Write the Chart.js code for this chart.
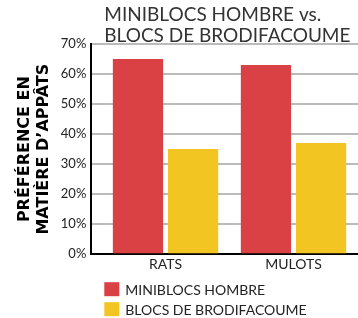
<!DOCTYPE html>
<html>
<head>
<meta charset="utf-8">
<script src="https://cdn.jsdelivr.net/npm/chart.js@4"></script>
<style>
  body { margin: 0; background: #fff; }
  #wrap { width: 358px; height: 318px; }
</style>
</head>
<body>
<div id="wrap"><canvas id="chart" width="358" height="318"></canvas></div>
<script>
const categories = ["RATS", "MULOTS"]
const miniblocs = [65, 63]
const brodifacoume = [35, 37]
const seriesNames = ["MINIBLOCS HOMBRE", "BLOCS DE BRODIFACOUME"]
const titleLines = ["MINIBLOCS HOMBRE vs.", "BLOCS DE BRODIFACOUME"]
const yTitle = ["PRÉFÉRENCE EN", "MATIÈRE D’APPÂTS"]

const FONT = "Lato, 'DejaVu Sans', sans-serif"

// title drawn left-aligned over the plot
const titlePlugin = {
  id: "leftTitle",
  afterDraw(chart) {
    const ctx = chart.ctx
    ctx.save()
    ctx.fillStyle = "#333"
    ctx.font = "19px " + FONT
    ctx.textBaseline = "middle"
    ctx.textAlign = "left"
    titleLines.forEach((line, i) => {
      ctx.fillText(line, chart.chartArea.left + 13, 15 + i * 21)
    })
    ctx.restore()
  }
}

// legend stacked under the axis, one series per row
const legendPlugin = {
  id: "stackedLegend",
  afterDraw(chart) {
    const ctx = chart.ctx
    const left = chart.chartArea.left + 13
    ctx.save()
    ctx.font = "14px " + FONT
    ctx.textBaseline = "middle"
    ctx.textAlign = "left"
    chart.data.datasets.forEach((ds, i) => {
      const top = chart.chartArea.bottom + 28 + i * 20
      ctx.fillStyle = ds.backgroundColor
      ctx.fillRect(left, top, 15, 14)
      ctx.fillStyle = "#222"
      ctx.fillText(ds.label, left + 21, top + 8)
    })
    ctx.restore()
  }
}

// categories sit on a linear index axis so the groups can be placed off-centre
const toPoints = (arr) => arr.map((v, i) => ({ x: i, y: v }))

new Chart(document.getElementById("chart"), {
  type: "bar",
  data: {
    datasets: [
      { label: seriesNames[0], data: toPoints(miniblocs), backgroundColor: "#d94145" },
      { label: seriesNames[1], data: toPoints(brodifacoume), backgroundColor: "#f2c523" }
    ]
  },
  options: {
    responsive: false,
    animation: false,
    categoryPercentage: 0.8615,
    barPercentage: 0.911,
    layout: { padding: { top: 44, right: 0, bottom: 43, left: 16 } },
    plugins: {
      title: { display: false },
      tooltip: { enabled: false },
      legend: { display: false }
    },
    scales: {
      x: {
        type: "linear",
        offset: false,
        bounds: "data",
        min: -0.58,
        max: 1.504,
        afterBuildTicks: (axis) => {
          axis.ticks = categories.map((c, i) => ({ value: i }))
        },
        grid: { display: false, drawTicks: false, offset: false },
        border: { color: "#000", width: 2 },
        ticks: {
          color: "#222",
          font: { family: FONT, size: 14 },
          padding: 2,
          callback: (v) => categories[v]
        }
      },
      y: {
        min: 0,
        max: 70,
        grid: { color: "#bbb", lineWidth: 2, drawTicks: false },
        border: { color: "#000", width: 2 },
        ticks: {
          stepSize: 10,
          color: "#222",
          padding: 5,
          font: { family: FONT, size: 13 },
          callback: (v) => v + "%"
        },
        title: {
          display: true,
          text: yTitle,
          color: "#000",
          font: { family: "'DejaVu Sans', sans-serif", size: 16, weight: "bold", lineHeight: 1.15 },
          padding: { top: 0, bottom: 3 }
        }
      }
    }
  },
  plugins: [titlePlugin, legendPlugin]
})
</script>
</body>
</html>
